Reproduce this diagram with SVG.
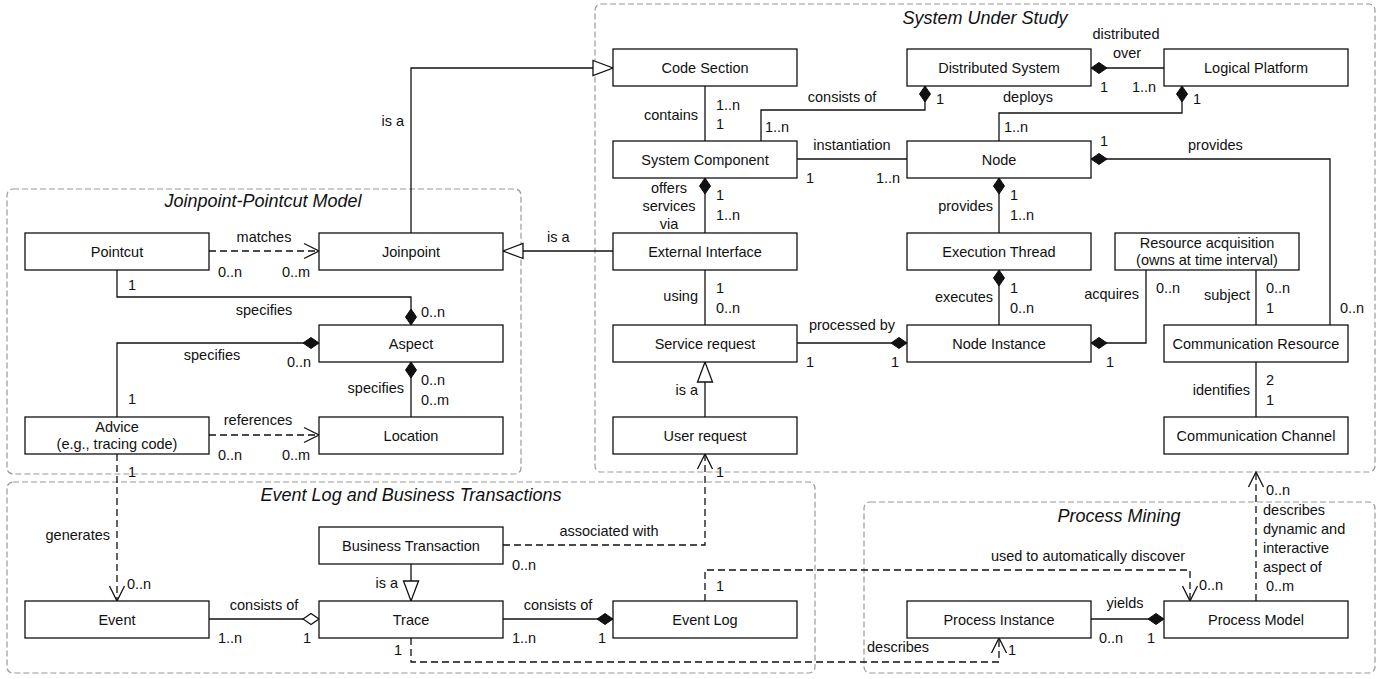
<svg xmlns="http://www.w3.org/2000/svg" width="1391" height="679" viewBox="0 0 1391 679">
<style>
text{font-family:"Liberation Sans",Arial,sans-serif;font-size:14.5px;fill:#111}
.t{font-size:18px;font-style:italic;text-anchor:middle}
.c{text-anchor:middle}
.e{text-anchor:end}
.box{fill:#fff;stroke:#111;stroke-width:1.3}
.grp{fill:none;stroke:#9a9a9a;stroke-width:1.2;stroke-dasharray:6 3}
.ln{fill:none;stroke:#111;stroke-width:1.3}
.d{stroke-dasharray:7 4}
.md{marker-end:url(#dia)}
.mh{marker-end:url(#hdia)}
.mt{marker-end:url(#tri)}
.ma{marker-end:url(#arr)}
</style>
<defs>
<marker id="dia" viewBox="-1 -7 19 14" markerWidth="19" markerHeight="14" refX="16" refY="0" orient="auto" markerUnits="userSpaceOnUse"><path d="M0,0 L8,-5.5 L16,0 L8,5.5 Z" fill="#111" stroke="#111" stroke-width="1"/></marker>
<marker id="hdia" viewBox="-1 -7 19 14" markerWidth="19" markerHeight="14" refX="16" refY="0" orient="auto" markerUnits="userSpaceOnUse"><path d="M0,0 L8,-5.5 L16,0 L8,5.5 Z" fill="#fff" stroke="#111" stroke-width="1.3"/></marker>
<marker id="tri" viewBox="-1 -9 23 18" markerWidth="23" markerHeight="18" refX="20" refY="0" orient="auto" markerUnits="userSpaceOnUse"><path d="M0,-7.5 L20,0 L0,7.5 Z" fill="#fff" stroke="#111" stroke-width="1.3"/></marker>
<marker id="arr" viewBox="-1 -9 18 18" markerWidth="18" markerHeight="18" refX="15" refY="0" orient="auto" markerUnits="userSpaceOnUse"><path d="M0,-7.5 L15,0 L0,7.5" fill="none" stroke="#111" stroke-width="1.3" stroke-dasharray="none"/></marker>
</defs>

<g id="groups">
<rect class="grp" x="595" y="4" width="780" height="468" rx="6"/>
<text class="t" x="985" y="24">System Under Study</text>
<rect class="grp" x="7" y="189" width="514" height="285" rx="6"/>
<text class="t" x="263" y="207">Joinpoint-Pointcut Model</text>
<rect class="grp" x="7" y="482" width="808" height="191" rx="6"/>
<text class="t" x="411" y="501">Event Log and Business Transactions</text>
<rect class="grp" x="864" y="502" width="511" height="171" rx="6"/>
<text class="t" x="1119" y="522">Process Mining</text>
</g>

<g id="connectors">
<path class="ln mt" d="M411,233 V68 H613"/>
<path class="ln mt" d="M613,251 H503"/>
<path class="ln" d="M705,86 V141"/>
<path class="ln md" d="M761,141 V110 H925 V86"/>
<path class="ln md" d="M1164,68 H1091"/>
<path class="ln md" d="M999,141 V113 H1182 V86"/>
<path class="ln" d="M797,159 H907"/>
<path class="ln md" d="M1330,325 V159 H1091"/>
<path class="ln md" d="M705,233 V178"/>
<path class="ln md" d="M999,233 V178"/>
<path class="ln" d="M705,270 V325"/>
<path class="ln md" d="M999,325 V270"/>
<path class="ln md" d="M797,343 H907"/>
<path class="ln md" d="M1146,270 V343 H1091"/>
<path class="ln" d="M1256,270 V325"/>
<path class="ln" d="M1256,362 V417"/>
<path class="ln mt" d="M705,417 V362"/>
<path class="ln d ma" d="M209,251 H319"/>
<path class="ln md" d="M117,270 V297 H411 V325"/>
<path class="ln md" d="M117,417 V343 H319"/>
<path class="ln md" d="M411,417 V362"/>
<path class="ln d ma" d="M209,435 H319"/>
<path class="ln d ma" d="M117,454 V601"/>
<path class="ln mh" d="M209,619 H319"/>
<path class="ln mt" d="M411,564 V601"/>
<path class="ln d ma" d="M503,545 H705 V454"/>
<path class="ln md" d="M503,619 H613"/>
<path class="ln d ma" d="M705,601 V570 H1190 V601"/>
<path class="ln d ma" d="M411,638 V662 H999 V638"/>
<path class="ln md" d="M1091,619 H1164"/>
<path class="ln d ma" d="M1256,601 V472"/>
</g>

<g id="labels">
<text class="e" x="404" y="126">is a</text>
<text x="547" y="242">is a</text>
<text class="e" x="698" y="120">contains</text>
<text x="716" y="110">1..n</text>
<text x="716" y="129">1</text>
<text class="c" x="842" y="102">consists of</text>
<text x="936" y="104">1</text>
<text x="765" y="132">1..n</text>
<text class="c" x="1126" y="39">distributed</text>
<text class="c" x="1127" y="58">over</text>
<text x="1100" y="92">1</text>
<text x="1132" y="92">1..n</text>
<text x="1003" y="102">deploys</text>
<text x="1193" y="104">1</text>
<text x="1004" y="132">1..n</text>
<text class="c" x="852" y="150">instantiation</text>
<text x="806" y="183">1</text>
<text x="876" y="183">1..n</text>
<text x="1100" y="146">1</text>
<text x="1188" y="150">provides</text>
<text x="1340" y="313">0..n</text>
<text class="c" x="669" y="193">offers</text>
<text class="c" x="669" y="211">services</text>
<text class="c" x="669" y="229">via</text>
<text x="716" y="200">1</text>
<text x="716" y="220">1..n</text>
<text class="e" x="993" y="211">provides</text>
<text x="1010" y="200">1</text>
<text x="1010" y="220">1..n</text>
<text class="e" x="698" y="301">using</text>
<text x="716" y="293">1</text>
<text x="716" y="313">0..n</text>
<text class="e" x="993" y="302">executes</text>
<text x="1010" y="293">1</text>
<text x="1010" y="313">0..n</text>
<text class="c" x="852" y="330">processed by</text>
<text x="806" y="367">1</text>
<text x="891" y="367">1</text>
<text class="e" x="1139" y="299">acquires</text>
<text x="1156" y="293">0..n</text>
<text x="1106" y="367">1</text>
<text class="e" x="1250" y="300">subject</text>
<text x="1266" y="293">0..n</text>
<text x="1266" y="313">1</text>
<text class="e" x="1250" y="395">identifies</text>
<text x="1266" y="385">2</text>
<text x="1266" y="405">1</text>
<text class="e" x="698" y="395">is a</text>
<text x="716" y="477">1</text>
<text class="c" x="264" y="242">matches</text>
<text x="218" y="277">0..n</text>
<text x="282" y="277">0..m</text>
<text x="128" y="290">1</text>
<text class="c" x="264" y="315">specifies</text>
<text x="421" y="317">0..n</text>
<text class="c" x="212" y="360">specifies</text>
<text x="287" y="367">0..n</text>
<text x="128" y="404">1</text>
<text class="e" x="404" y="393">specifies</text>
<text x="421" y="385">0..n</text>
<text x="421" y="405">0..m</text>
<text class="c" x="258" y="425">references</text>
<text x="218" y="460">0..n</text>
<text x="282" y="460">0..m</text>
<text x="128" y="477">1</text>
<text class="e" x="110" y="540">generates</text>
<text x="127" y="589">0..n</text>
<text class="c" x="264" y="610">consists of</text>
<text x="218" y="643">1..n</text>
<text x="303" y="643">1</text>
<text class="e" x="398" y="588">is a</text>
<text x="394" y="655">1</text>
<text class="c" x="609" y="536">associated with</text>
<text x="512" y="570">0..n</text>
<text x="716" y="591">1</text>
<text class="c" x="558" y="610">consists of</text>
<text x="512" y="643">1..n</text>
<text x="598" y="643">1</text>
<text class="c" x="1088" y="561">used to automatically discover</text>
<text x="1199" y="590">0..n</text>
<text class="c" x="1125" y="608">yields</text>
<text x="1099" y="643">0..n</text>
<text x="1147" y="643">1</text>
<text x="867" y="652">describes</text>
<text x="1008" y="655">1</text>
<text x="1266" y="495">0..n</text>
<text x="1263" y="515">describes</text>
<text x="1263" y="534">dynamic and</text>
<text x="1263" y="553">interactive</text>
<text x="1263" y="572">aspect of</text>
<text x="1266" y="591">0..m</text>
</g>

<g id="n-code-section"><rect class="box" x="613" y="49" width="184" height="37"/><text class="c" x="705" y="72.5">Code Section</text></g>
<g id="n-distributed-system"><rect class="box" x="907" y="49" width="184" height="37"/><text class="c" x="999" y="72.5">Distributed System</text></g>
<g id="n-logical-platform"><rect class="box" x="1164" y="49" width="184" height="37"/><text class="c" x="1256" y="72.5">Logical Platform</text></g>
<g id="n-system-component"><rect class="box" x="613" y="141" width="184" height="37"/><text class="c" x="705" y="164.5">System Component</text></g>
<g id="n-node"><rect class="box" x="907" y="141" width="184" height="37"/><text class="c" x="999" y="164.5">Node</text></g>
<g id="n-external-interface"><rect class="box" x="613" y="233" width="184" height="37"/><text class="c" x="705" y="256.5">External Interface</text></g>
<g id="n-execution-thread"><rect class="box" x="907" y="233" width="184" height="37"/><text class="c" x="999" y="256.5">Execution Thread</text></g>
<g id="n-resource-acquisition"><rect class="box" x="1115" y="233" width="184" height="37"/><text class="c" x="1207" y="248">Resource acquisition</text><text class="c" x="1207" y="265">(owns at time interval)</text></g>
<g id="n-service-request"><rect class="box" x="613" y="325" width="184" height="37"/><text class="c" x="705" y="348.5">Service request</text></g>
<g id="n-node-instance"><rect class="box" x="907" y="325" width="184" height="37"/><text class="c" x="999" y="348.5">Node Instance</text></g>
<g id="n-communication-resource"><rect class="box" x="1164" y="325" width="184" height="37"/><text class="c" x="1256" y="348.5">Communication Resource</text></g>
<g id="n-user-request"><rect class="box" x="613" y="417" width="184" height="37"/><text class="c" x="705" y="440.5">User request</text></g>
<g id="n-communication-channel"><rect class="box" x="1164" y="417" width="184" height="37"/><text class="c" x="1256" y="440.5">Communication Channel</text></g>
<g id="n-pointcut"><rect class="box" x="25" y="233" width="184" height="37"/><text class="c" x="117" y="256.5">Pointcut</text></g>
<g id="n-joinpoint"><rect class="box" x="319" y="233" width="184" height="37"/><text class="c" x="411" y="256.5">Joinpoint</text></g>
<g id="n-aspect"><rect class="box" x="319" y="325" width="184" height="37"/><text class="c" x="411" y="348.5">Aspect</text></g>
<g id="n-advice"><rect class="box" x="25" y="417" width="184" height="37"/><text class="c" x="117" y="432">Advice</text><text class="c" x="117" y="449">(e.g., tracing code)</text></g>
<g id="n-location"><rect class="box" x="319" y="417" width="184" height="37"/><text class="c" x="411" y="440.5">Location</text></g>
<g id="n-business-transaction"><rect class="box" x="319" y="527" width="184" height="37"/><text class="c" x="411" y="550.5">Business Transaction</text></g>
<g id="n-event"><rect class="box" x="25" y="601" width="184" height="37"/><text class="c" x="117" y="624.5">Event</text></g>
<g id="n-trace"><rect class="box" x="319" y="601" width="184" height="37"/><text class="c" x="411" y="624.5">Trace</text></g>
<g id="n-event-log"><rect class="box" x="613" y="601" width="184" height="37"/><text class="c" x="705" y="624.5">Event Log</text></g>
<g id="n-process-instance"><rect class="box" x="907" y="601" width="184" height="37"/><text class="c" x="999" y="624.5">Process Instance</text></g>
<g id="n-process-model"><rect class="box" x="1164" y="601" width="184" height="37"/><text class="c" x="1256" y="624.5">Process Model</text></g>
</svg>
